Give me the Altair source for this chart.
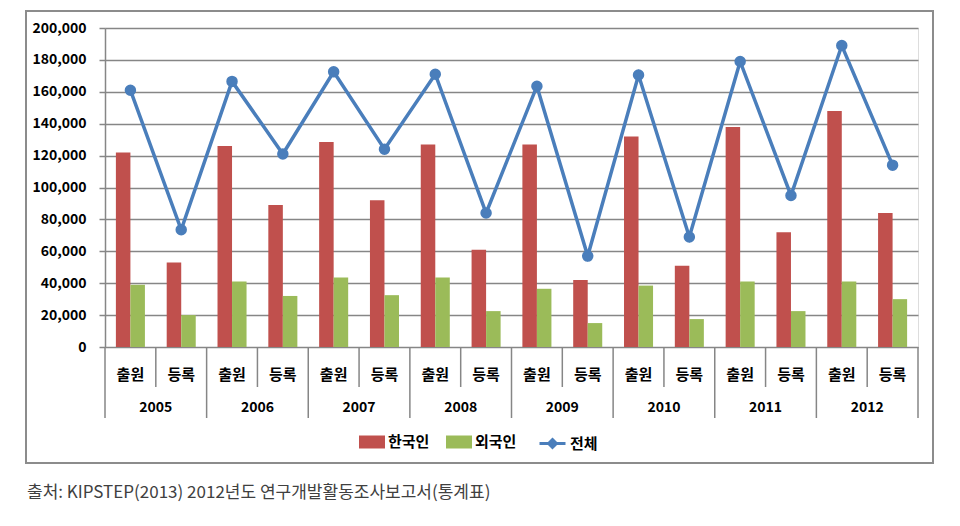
import altair as alt
import pandas as pd

years = ["2005", "2006", "2007", "2008", "2009", "2010", "2011", "2012"]
kinds = ["출원", "등록"]
series_names = ["한국인", "외국인", "전체"]
korean = [122000, 53000, 126000, 89000, 128500, 92000, 127000, 61000,
          127000, 42000, 132000, 51000, 138000, 72000, 148000, 84000]
foreign = [39000, 20000, 41000, 32000, 43500, 32500, 43500, 22500,
           36500, 15000, 38500, 17500, 41000, 22500, 41000, 30000]
total = [161000, 73500, 166500, 121000, 172500, 124000, 171000, 84000,
         163500, 57000, 170500, 69000, 179000, 95000, 189000, 114000]
y_ticks = list(range(0, 200001, 20000))
source_text = "출처: KIPSTEP(2013) 2012년도 연구개발활동조사보고서(통계표)"

colors = ["#C0504D", "#9BBB59", "#4A7EBB"]
grid = "#868686"
FONT = "Noto Sans CJK KR"

keys, key_year, key_kind = [], [], []
for y in years:
    for k in kinds:
        keys.append(f"{y}|{k}")
        key_year.append(y)
        key_kind.append(k)

bars = pd.DataFrame(
    [{"key": keys[i], "series": series_names[0], "value": korean[i]} for i in range(16)]
    + [{"key": keys[i], "series": series_names[1], "value": foreign[i]} for i in range(16)]
)
line = pd.DataFrame({"key": keys, "series": series_names[2], "value": total})
cats = pd.DataFrame({"key": keys, "year": key_year, "kind": key_kind})
year_start = cats[cats["kind"] == kinds[0]]
year_mid = cats[cats["kind"] == kinds[1]]
last_key = cats.tail(1)

W, H = 813, 319

xscale = alt.Scale(domain=keys, paddingInner=0, paddingOuter=0)
yscale = alt.Scale(domain=[0, 200000])

legend_common = dict(
    title=None, orient="none", direction="horizontal", padding=0,
    labelFont=FONT, labelFontSize=15, labelFontWeight="bold", labelColor="#000000",
    symbolSize=676, labelOffset=3, columnPadding=16, symbolOpacity=1,
)
bar_legend = alt.Legend(legendX=254, legendY=401, symbolType="M-1,-0.5H1V0.5H-1Z",
                        symbolStrokeWidth=0, **legend_common)
line_legend = alt.Legend(legendX=433, legendY=401,
                         symbolType="M-1,0H1M0,-0.3L0.3,0L0,0.3L-0.3,0Z",
                         symbolStrokeWidth=3, symbolFillColor=colors[2], **legend_common)

yaxis = alt.Axis(
    values=y_ticks, format=",d", title=None,
    labelFont=FONT, labelFontSize=14, labelFontWeight="bold", labelColor="#000000",
    labelPadding=13, labelOverlap=False, tickSize=6, tickColor=grid, tickWidth=1.5,
    gridColor=grid, gridWidth=1.5, domainColor=grid, domainWidth=1.5,
)

frame = alt.Chart(pd.DataFrame({"a": [0]})).mark_rect(
    fillOpacity=0, stroke="#8C8C8C", strokeWidth=2
).encode(x=alt.value(-79), x2=alt.value(828), y=alt.value(-17), y2=alt.value(435))

bar_layer = alt.Chart(bars).mark_bar().encode(
    x=alt.X("key:N", scale=xscale, axis=None),
    xOffset=alt.XOffset("series:N", sort=series_names[:2],
                        scale=alt.Scale(paddingInner=0, paddingOuter=0.75)),
    y=alt.Y("value:Q", scale=yscale, axis=yaxis),
    color=alt.Color("series:N", scale=alt.Scale(domain=series_names[:2], range=colors[:2]),
                    legend=bar_legend),
)

line_layer = alt.Chart(line).mark_line(
    strokeWidth=3.5,
    point=alt.OverlayMarkDef(filled=True, size=90, color=colors[2]),
).encode(
    x=alt.X("key:N", scale=xscale, axis=None),
    y=alt.Y("value:Q", scale=yscale, axis=yaxis),
    stroke=alt.Stroke("series:N", scale=alt.Scale(domain=series_names[2:], range=colors[2:]),
                      legend=line_legend),
)

year_rules = alt.Chart(year_start).mark_rule(color=grid, strokeWidth=1.5).encode(
    x=alt.X("key:N", scale=xscale, bandPosition=0, axis=None),
    y=alt.value(H), y2=alt.value(H + 71),
)
end_rule = alt.Chart(last_key).mark_rule(color=grid, strokeWidth=1.5).encode(
    x=alt.X("key:N", scale=xscale, bandPosition=1, axis=None),
    y=alt.value(H), y2=alt.value(H + 71),
)
inner_rules = alt.Chart(year_mid).mark_rule(color=grid, strokeWidth=1.5).encode(
    x=alt.X("key:N", scale=xscale, bandPosition=0, axis=None),
    y=alt.value(H), y2=alt.value(H + 40),
)

kind_text = alt.Chart(cats).mark_text(
    font=FONT, fontSize=15, fontWeight="bold", color="#000000", baseline="middle"
).encode(
    x=alt.X("key:N", scale=xscale, axis=None),
    y=alt.value(H + 28),
    text="kind:N",
)
year_text = alt.Chart(year_mid).mark_text(
    font=FONT, fontSize=14, fontWeight="bold", color="#000000", baseline="middle"
).encode(
    x=alt.X("key:N", scale=xscale, bandPosition=0, axis=None),
    y=alt.value(H + 61),
    text="year:N",
)
src = alt.Chart(pd.DataFrame({"t": [source_text]})).mark_text(
    font=FONT, fontSize=17, color="#404040", align="left", baseline="middle"
).encode(x=alt.value(-78), y=alt.value(465), text="t:N")

chart = alt.layer(
    frame, bar_layer, line_layer, year_rules, end_rule, inner_rules, kind_text, year_text, src
).resolve_scale(color="independent").properties(
    width=W, height=H,
    autosize=alt.AutoSizeParams(type="none"),
    padding={"left": 97, "top": 20, "right": 30, "bottom": 175},
).configure_view(stroke=None).configure(font=FONT)

chart.save("out.html", embed_options={"renderer": "svg", "actions": False})
